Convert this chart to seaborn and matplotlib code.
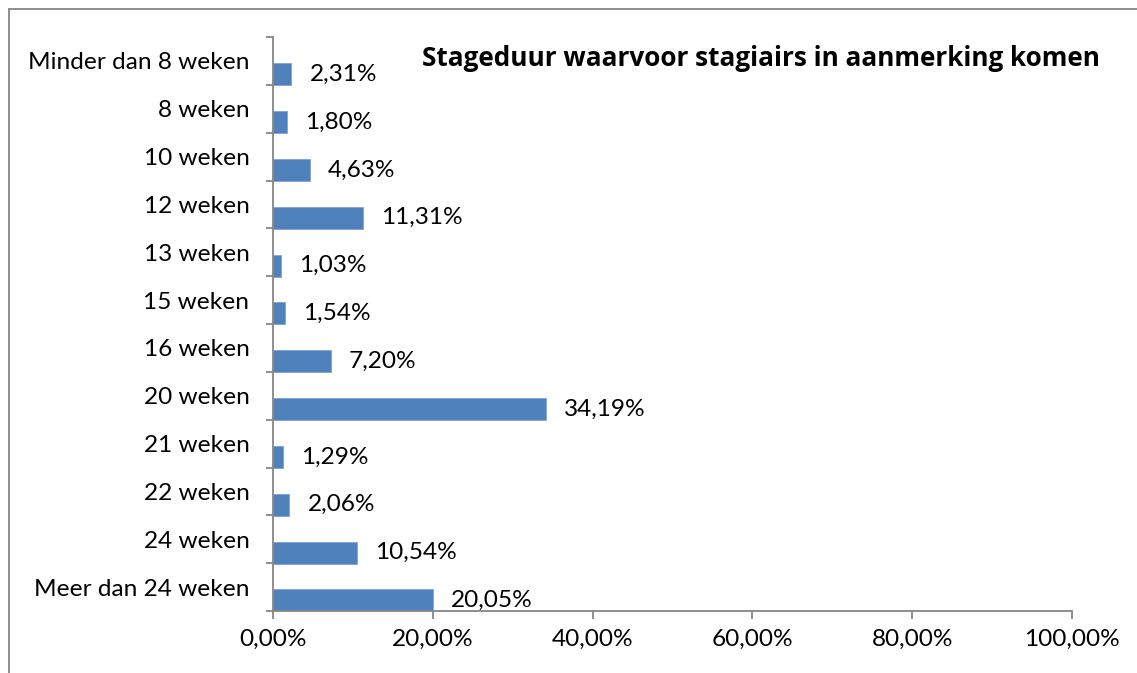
import matplotlib
matplotlib.use("Agg")
import matplotlib.pyplot as plt
import seaborn as sns
import pandas as pd
import numpy as np
from matplotlib.lines import Line2D
from matplotlib.ticker import FuncFormatter, FixedLocator

categories = ["Minder dan 8 weken", "8 weken", "10 weken", "12 weken", "13 weken",
              "15 weken", "16 weken", "20 weken", "21 weken", "22 weken",
              "24 weken", "Meer dan 24 weken"]
values = [2.31, 1.80, 4.63, 11.31, 1.03, 1.54, 7.20, 34.19, 1.29, 2.06, 10.54, 20.05]
title = "Stageduur waarvoor stagiairs in aanmerking komen"

sns.set_theme(style="white")
plt.rcParams["font.family"] = ["Lato", "DejaVu Sans"]
FS = 17.6

idx = np.arange(len(categories))
df = pd.DataFrame({"pos": idx + 0.28, "value": values, "cat": categories})

fig = plt.figure(figsize=(11.37, 6.73), dpi=100)
ax = fig.add_axes([273/1137, 1-611/673, (1072-273)/1137, (611-37)/673])

sns.barplot(data=df, x="value", y="pos", orient="h", native_scale=True,
            color="#4F81BD", saturation=1, width=0.46, edgecolor="#7FA3D3",
            linewidth=0.6, ax=ax)

ax.set_xlim(0, 100)
ax.set_ylim(len(categories) - 0.5, -0.5)
ax.set_xlabel("")
ax.set_ylabel("")

ax.xaxis.set_major_locator(FixedLocator([0, 20, 40, 60, 80, 100]))
ax.xaxis.set_major_formatter(FuncFormatter(lambda v, p: f"{v:.2f}%".replace(".", ",")))
ax.yaxis.set_major_locator(FixedLocator(idx))
ax.set_yticklabels(categories)
ax.yaxis.set_minor_locator(FixedLocator(np.arange(len(categories) + 1) - 0.5))

for s in ["top", "right"]:
    ax.spines[s].set_visible(False)
for s in ["left", "bottom"]:
    ax.spines[s].set_color("#868686")
    ax.spines[s].set_linewidth(1.3)

ax.tick_params(axis="y", which="major", length=0, pad=17, labelsize=FS, labelcolor="black")
ax.tick_params(axis="y", which="minor", length=5, width=1.3, color="#868686", left=True)
ax.tick_params(axis="x", which="major", length=6, width=1.3, color="#868686", bottom=True,
               labelsize=FS, labelcolor="black", pad=7)

for c in ax.containers:
    ax.bar_label(c, labels=[f"{v:.2f}%".replace(".", ",") for v in values],
                 padding=13, fontsize=FS, color="black")

ax.text(1100/1137, 1-58/673, title, transform=fig.transFigure, ha="right", va="center",
        fontsize=18.8, fontweight="bold", color="black", family=["Open Sans", "DejaVu Sans"])

fig.add_artist(Line2D([9/1137, 9/1137], [0, 1-9/673], transform=fig.transFigure,
                      color="#868686", linewidth=1.3))
fig.add_artist(Line2D([9/1137, 1], [1-9/673, 1-9/673], transform=fig.transFigure,
                      color="#868686", linewidth=1.3))

fig.savefig("out.png", dpi=100)
